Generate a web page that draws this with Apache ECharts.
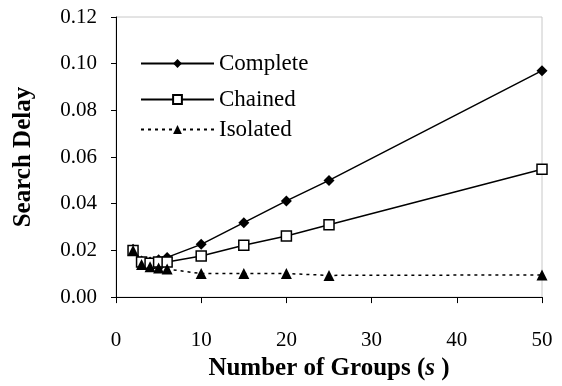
<!DOCTYPE html>
<html><head><meta charset="utf-8">
<script src="https://cdn.jsdelivr.net/npm/echarts@6/dist/echarts.min.js"></script>
<style>html,body{margin:0;padding:0;background:#fff}#c{width:562px;height:386px}</style>
</head><body><div id="c"></div>
<script>
const groups = [2, 3, 4, 5, 6, 10, 15, 20, 25, 50];
const complete = [0.0205, 0.0155, 0.0150, 0.0160, 0.0170, 0.0226, 0.0319, 0.0412, 0.0500, 0.0970];
const chained  = [0.0200, 0.0150, 0.0145, 0.0150, 0.0150, 0.0176, 0.0222, 0.0262, 0.0310, 0.0548];
const isolated = [0.0200, 0.0140, 0.0130, 0.0125, 0.0120, 0.0101, 0.0101, 0.0101, 0.0093, 0.0095];
const yTicks = ['0.00','0.02','0.04','0.06','0.08','0.10','0.12'];
const seriesNames = ['Complete', 'Chained', 'Isolated'];
const legendTops = [52, 88, 118];

const font = 'Liberation Serif';
const pairs = arr => groups.map((g, i) => [g, arr[i]]);
const chart = echarts.init(document.getElementById('c'));
chart.setOption({
  animation: false,
  grid: { left: 116, right: 20, top: 17, bottom: 88, show: true, borderColor: '#c8c8c8', borderWidth: 1, backgroundColor: 'transparent' },
  legend: seriesNames.map((n, i) => ({
    orient: 'vertical', left: 140, top: legendTops[i], padding: 0, itemWidth: 73, itemHeight: 11, itemGap: 0,
    textStyle: { fontFamily: font, fontSize: 23, color: '#000' },
    data: [n]
  })),
  xAxis: {
    type: 'value', min: 0, max: 50, interval: 10,
    name: '{b|Number of Groups (}{i|s}{b| )}', nameLocation: 'middle', nameGap: 58,
    nameTextStyle: { fontFamily: font, fontSize: 25, fontWeight: 'bold', color: '#000',
      rich: { b: { fontFamily: font, fontSize: 25, fontWeight: 'bold', color: '#000' },
              i: { fontFamily: font, fontSize: 25, fontWeight: 'bold', fontStyle: 'italic', color: '#000' } } },
    axisLine: { lineStyle: { color: '#000', width: 1 } },
    axisTick: { show: true, length: 6, lineStyle: { color: '#000' } },
    axisLabel: { fontFamily: font, fontSize: 21, color: '#000', margin: 33 },
    splitLine: { show: false }
  },
  yAxis: {
    type: 'value', min: 0, max: 0.12, interval: 0.02,
    name: 'Search Delay', nameLocation: 'middle', nameGap: 80, nameRotate: 90,
    nameTextStyle: { fontFamily: font, fontSize: 25, fontWeight: 'bold', color: '#000' },
    axisLine: { show: true, lineStyle: { color: '#000', width: 1 } },
    axisTick: { show: true, length: 5, lineStyle: { color: '#000' } },
    axisLabel: { fontFamily: font, fontSize: 21, color: '#000', margin: 19,
      formatter: (v) => yTicks[Math.round(v / 0.02)] },
    splitLine: { show: false }
  },
  series: [
    { name: 'Complete', type: 'line', data: pairs(complete), symbol: 'diamond', symbolSize: 11,
      itemStyle: { color: '#000' }, lineStyle: { color: '#000', width: 1.5 } },
    { name: 'Chained', type: 'line', data: pairs(chained), symbol: 'rect', symbolSize: 10,
      itemStyle: { color: '#fff', borderColor: '#000', borderWidth: 1.5 }, lineStyle: { color: '#000', width: 1.5 } },
    { name: 'Isolated', type: 'line', data: pairs(isolated), symbol: 'triangle', symbolSize: 11,
      itemStyle: { color: '#000' }, lineStyle: { color: '#000', width: 1.5, type: [3, 4] } }
  ]
});
</script></body></html>
